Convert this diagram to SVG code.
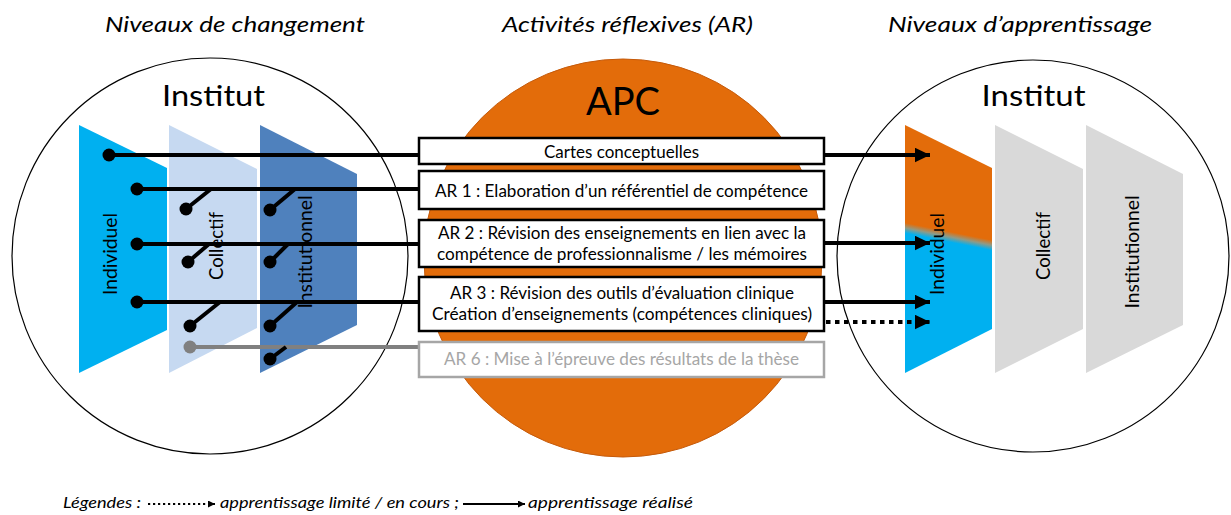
<svg xmlns="http://www.w3.org/2000/svg" width="1231" height="515" viewBox="0 0 1231 515">
<style>
text{font-family:Lato,"Liberation Sans",sans-serif;fill:#000}
.title{font-style:italic;font-size:21px;text-anchor:middle}
.inst{font-size:29px;text-anchor:middle}
.lvl{font-size:18.5px;text-anchor:middle}
.box{fill:#fff;stroke:#000;stroke-width:2.5}
.bt{font-size:17px;text-anchor:middle}
.ln{stroke:#000;stroke-width:4;fill:none}
.dot{fill:#000}
.leg{font-style:italic;font-size:14.5px}
</style>
<defs>
<marker id="ah" markerUnits="userSpaceOnUse" markerWidth="16" markerHeight="15" refX="15" refY="7.25" orient="auto">
<path d="M0,0 L15,7.25 L0,14.5 z" fill="#000"/>
</marker>
<marker id="ahs" markerUnits="userSpaceOnUse" markerWidth="8" markerHeight="8" refX="7" refY="3.5" orient="auto">
<path d="M0,0 L7,3.5 L0,7 z" fill="#000"/>
</marker>
<linearGradient id="indiv" gradientUnits="userSpaceOnUse" x1="949" y1="231.5" x2="947" y2="241.5">
<stop offset="0" stop-color="#E36C0A"/>
<stop offset="0.5" stop-color="#8f9a86"/>
<stop offset="1" stop-color="#00B0F0"/>
</linearGradient>
</defs>
<rect width="1231" height="515" fill="#fff"/>

<g id="titles">
<text class="title" x="235" y="32" textLength="260" lengthAdjust="spacingAndGlyphs">Niveaux de changement</text>
<text class="title" x="627.5" y="32" textLength="251" lengthAdjust="spacingAndGlyphs">Activités réflexives (AR)</text>
<text class="title" x="1020" y="32" textLength="264" lengthAdjust="spacingAndGlyphs">Niveaux d’apprentissage</text>
</g>

<g id="left-institut">
<circle cx="210" cy="256" r="198" fill="#fff" stroke="#000" stroke-width="1.2"/>
<text class="inst" x="213.5" y="106" textLength="103" lengthAdjust="spacingAndGlyphs">Institut</text>
<g id="left-individuel">
<polygon points="79,125 167,168 167,330 79,373" fill="#00B0F0"/>
<text class="lvl" transform="translate(117,254) rotate(-90)" textLength="82" lengthAdjust="spacingAndGlyphs">Individuel</text>
</g>
<g id="left-collectif">
<polygon points="169,125 257,169 257,328 169,373" fill="#C6D9F1"/>
<text class="lvl" transform="translate(223,246) rotate(-90)" textLength="68" lengthAdjust="spacingAndGlyphs">Collectif</text>
</g>
<g id="left-institutionnel">
<polygon points="260,125 357,174 357,325 260,373" fill="#4F81BD"/>
<text class="lvl" transform="translate(312,252) rotate(-90)" textLength="113" lengthAdjust="spacingAndGlyphs">Institutionnel</text>
</g>
</g>

<g id="right-institut">
<circle cx="1033" cy="256" r="196" fill="#fff" stroke="#000" stroke-width="1.2"/>
<text class="inst" x="1033.5" y="106" textLength="104" lengthAdjust="spacingAndGlyphs">Institut</text>
<g id="right-individuel">
<polygon points="905,125 992,168 992,329 905,373" fill="url(#indiv)"/>
<text class="lvl" transform="translate(944,254) rotate(-90)" textLength="82" lengthAdjust="spacingAndGlyphs">Individuel</text>
</g>
<g id="right-collectif">
<polygon points="995,125 1083,169 1083,329 995,373" fill="#D9D9D9"/>
<text class="lvl" transform="translate(1050,246) rotate(-90)" textLength="68" lengthAdjust="spacingAndGlyphs">Collectif</text>
</g>
<g id="right-institutionnel">
<polygon points="1086,125 1183,174 1183,325 1086,373" fill="#D9D9D9"/>
<text class="lvl" transform="translate(1139,252) rotate(-90)" textLength="113" lengthAdjust="spacingAndGlyphs">Institutionnel</text>
</g>
</g>

<g id="apc">
<circle cx="623" cy="258" r="199" fill="#E36C0A" stroke="#C55A0A" stroke-width="1"/>
<text x="623" y="115" font-size="39" text-anchor="middle" textLength="74" lengthAdjust="spacingAndGlyphs">APC</text>
</g>

<g id="connectors">
<!-- row 1 : cartes conceptuelles -->
<circle class="dot" cx="109" cy="155" r="6.5"/>
<line class="ln" x1="109" y1="155" x2="420" y2="155"/>
<line class="ln" x1="823" y1="155" x2="930" y2="155" marker-end="url(#ah)"/>
<!-- row 2 : AR1 -->
<circle class="dot" cx="137" cy="189" r="6.5"/>
<line class="ln" x1="137" y1="189" x2="420" y2="189"/>
<circle class="dot" cx="186" cy="209" r="6.5"/>
<line class="ln" x1="186" y1="209" x2="211" y2="189"/>
<circle class="dot" cx="270" cy="210" r="6.5"/>
<line class="ln" x1="270" y1="210" x2="295" y2="189"/>
<!-- row 3 : AR2 -->
<circle class="dot" cx="137" cy="244" r="6.5"/>
<line class="ln" x1="137" y1="244" x2="420" y2="244"/>
<circle class="dot" cx="188" cy="262" r="6.5"/>
<line class="ln" x1="188" y1="262" x2="209" y2="244"/>
<circle class="dot" cx="270" cy="262" r="6.5"/>
<line class="ln" x1="270" y1="262" x2="288" y2="244"/>
<line class="ln" x1="823" y1="243" x2="930" y2="243" marker-end="url(#ah)"/>
<!-- row 4 : AR3 -->
<circle class="dot" cx="137" cy="302" r="6.5"/>
<line class="ln" x1="137" y1="302" x2="420" y2="302"/>
<circle class="dot" cx="190" cy="326" r="6.5"/>
<line class="ln" x1="190" y1="326" x2="220" y2="302"/>
<circle class="dot" cx="270" cy="326" r="6.5"/>
<line class="ln" x1="270" y1="326" x2="297" y2="302"/>
<line class="ln" x1="823" y1="302" x2="930" y2="302" marker-end="url(#ah)"/>
<line class="ln" x1="826" y1="322" x2="930" y2="322" stroke-width="4.5" stroke-dasharray="4.5 4.5" marker-end="url(#ah)"/>
<!-- row 5 : AR6 -->
<circle cx="190" cy="347" r="6.5" fill="#808080"/>
<line x1="190" y1="347" x2="420" y2="347" stroke="#808080" stroke-width="4"/>
<circle class="dot" cx="270" cy="359" r="6.5"/>
<line class="ln" x1="270" y1="359" x2="286" y2="347"/>
</g>

<g id="box-cartes">
<rect class="box" x="419" y="138" width="405" height="26"/>
<text class="bt" x="621.5" y="158" textLength="155" lengthAdjust="spacingAndGlyphs">Cartes conceptuelles</text>
</g>
<g id="box-ar1">
<rect class="box" x="419" y="171" width="405" height="38"/>
<text class="bt" x="621.5" y="197" textLength="373" lengthAdjust="spacingAndGlyphs">AR 1 : Elaboration d’un référentiel de compétence</text>
</g>
<g id="box-ar2">
<rect class="box" x="419" y="220" width="405" height="47"/>
<text class="bt" x="622" y="239" textLength="368" lengthAdjust="spacingAndGlyphs">AR 2 : Révision des enseignements en lien avec la</text>
<text class="bt" x="622" y="259.5" textLength="370" lengthAdjust="spacingAndGlyphs">compétence de professionnalisme / les mémoires</text>
</g>
<g id="box-ar3">
<rect class="box" x="419" y="277" width="405" height="54"/>
<text class="bt" x="622" y="298.5" textLength="344" lengthAdjust="spacingAndGlyphs">AR 3 : Révision des outils d’évaluation clinique</text>
<text class="bt" x="622" y="319.5" textLength="380" lengthAdjust="spacingAndGlyphs">Création d’enseignements (compétences cliniques)</text>
</g>
<g id="box-ar6">
<rect x="419" y="342" width="405" height="35" fill="#fff" stroke="#A6A6A6" stroke-width="2.5"/>
<text class="bt" x="621.5" y="365" textLength="355" lengthAdjust="spacingAndGlyphs" style="fill:#A6A6A6">AR 6 : Mise à l’épreuve des résultats de la thèse</text>
</g>

<g id="legend">
<text class="leg" x="63" y="508" textLength="78" lengthAdjust="spacingAndGlyphs">Légendes :</text>
<line x1="148" y1="504" x2="215" y2="504" stroke="#000" stroke-width="2" stroke-dasharray="2.2 2.8" marker-end="url(#ahs)"/>
<text class="leg" x="220" y="508" textLength="239" lengthAdjust="spacingAndGlyphs">apprentissage limité / en cours ;</text>
<line x1="463" y1="504" x2="525" y2="504" stroke="#000" stroke-width="1.8" marker-end="url(#ahs)"/>
<text class="leg" x="528" y="508" textLength="165" lengthAdjust="spacingAndGlyphs">apprentissage réalisé</text>
</g>
</svg>
